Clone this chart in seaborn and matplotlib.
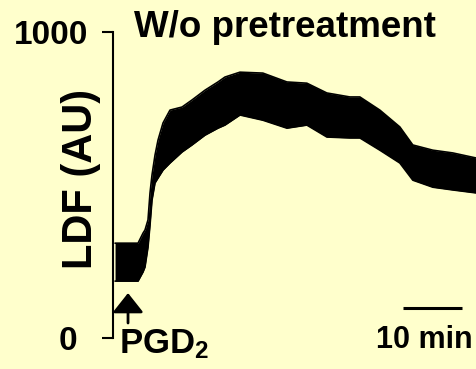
import numpy as np
import pandas as pd
import matplotlib
matplotlib.use("Agg")
import matplotlib.pyplot as plt
import matplotlib.transforms as mtransforms
import seaborn as sns

# LDF trace envelope (minutes after start, AU)
time_min = [0, 3.9, 4.75, 5.08, 5.59, 5.93, 6.27, 6.78, 7.29, 8.14, 9.32, 11.36,
            13.05, 15.25, 17.46, 18.64, 21.19, 25.08, 29.15, 32.54, 35.93, 39.83,
            41.53, 44.92, 48.31, 50.51, 53.9, 57.29, 61.36]
ldf_upper = [310, 310, 343, 353, 386, 474, 533, 598, 647, 703, 745, 755,
             778, 810, 837, 853, 869, 866, 837, 833, 801, 788,
             788, 745, 690, 631, 614, 605, 588]
ldf_lower = [186, 186, 216, 232, 297, 369, 451, 507, 523, 549, 572, 608,
             631, 663, 686, 696, 729, 712, 686, 696, 657, 654,
             654, 614, 572, 516, 493, 484, 474]

y_ticks = [0, 1000]
y_ticklabels = ["0", "1000"]
pgd2_time = 2.2           # injection
scale_bar = [48.8, 58.8]  # 10 min

df = pd.DataFrame({"time": time_min, "upper": ldf_upper, "lower": ldf_lower})

sns.set_theme(style="white")
bg = "#FFFFCC"
plt.rcParams["font.family"] = ["Liberation Sans", "DejaVu Sans"]
plt.rcParams["font.weight"] = "bold"
plt.rcParams["text.color"] = "black"
plt.rcParams["axes.labelcolor"] = "black"
plt.rcParams["ytick.color"] = "black"
plt.rcParams["mathtext.fontset"] = "custom"
plt.rcParams["mathtext.rm"] = "Liberation Sans:bold"
plt.rcParams["mathtext.bf"] = "Liberation Sans:bold"

fig = plt.figure(figsize=(4.77, 3.69), dpi=100, facecolor=bg)
ax = fig.add_axes([0.237, 0.084, 0.763, 0.829])
ax.set_facecolor(bg)

ax.fill_between(df["time"], df["lower"], df["upper"], color="black", lw=0)
sns.lineplot(data=df, x="time", y="upper", color="black", lw=1.2, ax=ax)
sns.lineplot(data=df, x="time", y="lower", color="black", lw=1.2, ax=ax)

ax.set_xlim(-0.34, 61.4)
ax.set_ylim(0, 1000)

for s in ["top", "right", "bottom"]:
    ax.spines[s].set_visible(False)
ax.spines["left"].set_linewidth(1.5)
ax.spines["left"].set_color("black")
ax.xaxis.set_visible(False)

ax.set_yticks(y_ticks)
ax.set_yticklabels(y_ticklabels, fontsize=24, fontweight="bold", color="black")
ax.tick_params(axis="y", direction="out", length=8, width=1.5, pad=10,
               color="black", left=True)
# the "0" sits further left in the original
zero_lbl = ax.get_yticklabels()[0]
zero_lbl.set_transform(zero_lbl.get_transform() +
                       mtransforms.ScaledTranslation(-0.11, 0, fig.dpi_scale_trans))

ax.set_ylabel("LDF (AU)", fontsize=30, fontweight="bold", color="black")
ax.yaxis.set_label_coords(-0.032, 0.52)

ax.text(0.4725, 0.984, "W/o pretreatment", transform=ax.transAxes,
        ha="center", va="baseline", fontsize=26.5, fontweight="bold", color="black")

# PGD2 arrow
ax.annotate("", xy=(pgd2_time, 147), xytext=(pgd2_time, 49),
            arrowprops=dict(arrowstyle="-|>,head_length=1.2,head_width=0.95",
                            color="black", lw=2, shrinkA=0, shrinkB=0,
                            mutation_scale=10))
ax.text(-0.34 + 1.0, -0.05, r"$\mathbf{PGD_2}$", transform=ax.get_xaxis_transform(),
        ha="left", va="baseline", fontsize=25, color="black", clip_on=False)

# 10 min scale bar
ax.plot(scale_bar, [98, 98], color="black", lw=2.2, solid_capstyle="butt")
ax.text(0.854, -0.033, "10 min", transform=ax.transAxes, ha="center",
        va="baseline", fontsize=22, fontweight="bold", color="black", clip_on=False)

fig.savefig("out.png", dpi=100, facecolor=bg)
